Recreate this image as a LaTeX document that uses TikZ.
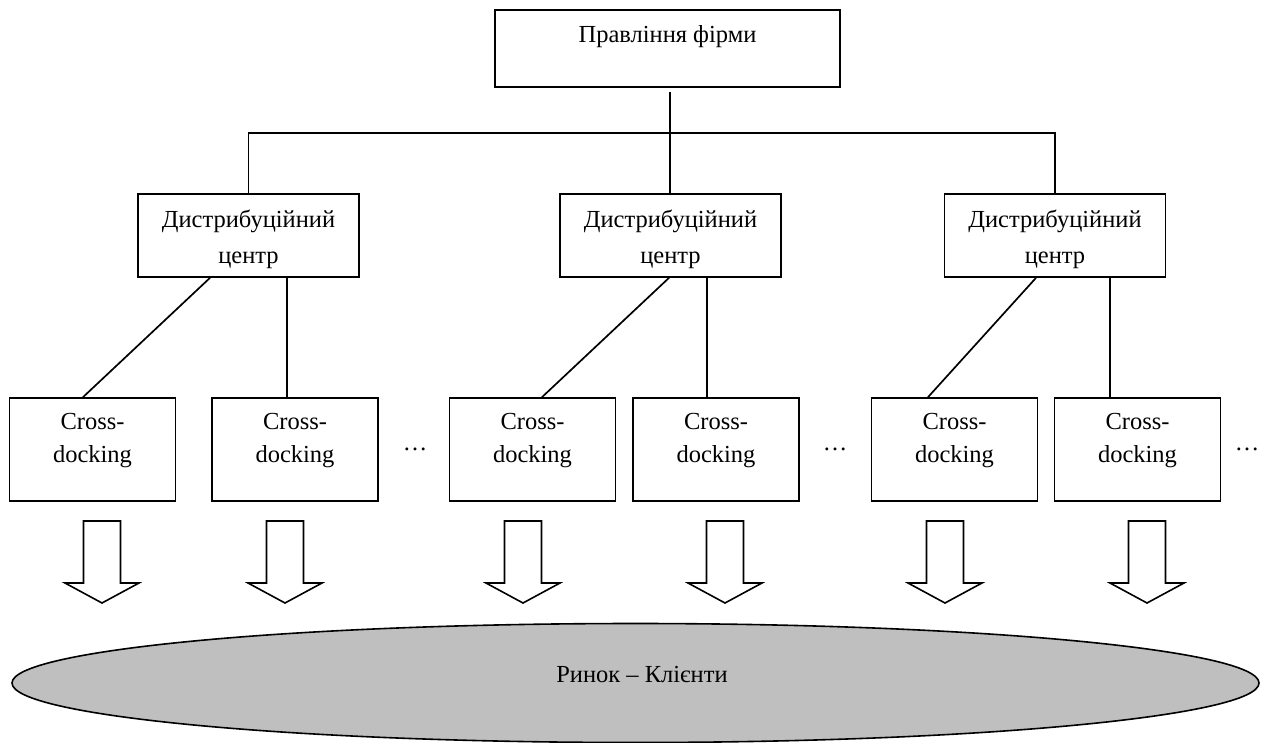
\documentclass[tikz,border=0pt]{standalone}
\usepackage{fontspec}
\setmainfont{Liberation Serif}
\usetikzlibrary{shapes.geometric,calc}
\tikzset{
  every node/.style={font=\fontsize{24.5}{36}\selectfont},
  boxnode/.style={draw, line width=1.7pt, inner sep=0pt},
  conn/.style={line width=1.7pt},
  txt/.style={inner sep=0pt, align=center, font=\fontsize{24.5}{33}\selectfont},
  downarrow/.pic={\draw[line width=1.6pt, line join=miter, fill=white]
     (-18.5,0) -- (18.5,0) -- (18.5,62) -- (37,62) -- (0,82) -- (-37,62) -- (-18.5,62) -- cycle;}
}
\begin{document}
\begin{tikzpicture}[x=1pt,y=-1pt]
\useasboundingbox (0,0) rectangle (1266,742);
% top
\node[boxnode, minimum width=345, minimum height=77] (top) at (667.5,48.5) {};
\node[inner sep=0pt, anchor=base] (toptxt) at (667.5,42) {Правління фірми};
% distribution centres
\foreach \n/\x in {dc1/248.5, dc2/670.5, dc3/1055}{
  \node[boxnode, minimum width=221, minimum height=83, align=center] (\n) at (\x,235.5) {\strut Дистрибуційний\\центр};
}
% cross-docking boxes
\foreach \n/\x in {cd1/92.5, cd2/295, cd3/532.5, cd4/716, cd5/954.5, cd6/1137.5}{
  \node[boxnode, minimum width=166, minimum height=103] (\n) at (\x,449.5) {};
  \node[txt] (\n t) at (\x,441) {Cross-\\docking};
}
% dots
\node[inner sep=0pt, anchor=base] (d1) at (415,450) {…};
\node[inner sep=0pt, anchor=base] (d2) at (835,450) {…};
\node[inner sep=0pt, anchor=base] (d3) at (1247,450) {…};
% bus
\coordinate (bus) at (670,133);
\draw[conn, shorten <=4pt] (top.south -| bus) -- (bus);
\draw[conn] (dc1.north) |- (bus) -| (dc3.north);
\draw[conn] (bus) -- (dc2.north -| bus);
% dc -> cd
\draw[conn] ($(dc1.south)+(-38.5,0)$) -- ($(cd1.north)+(-9.5,0)$);
\draw[conn] ($(dc1.south)+(38.5,0)$) -- ($(cd2.north)+(-8,0)$);
\draw[conn] ($(dc2.south)+(-1.5,0)$) -- ($(cd3.north)+(9.5,0)$);
\draw[conn] ($(dc2.south)+(36.5,0)$) -- ($(cd4.north)+(-9,0)$);
\draw[conn] ($(dc3.south)+(-19,0)$) -- ($(cd5.north)+(-26.5,0)$);
\draw[conn] ($(dc3.south)+(55,0)$) -- ($(cd6.north)+(-27.5,0)$);
% block arrows
\foreach \x in {102,285,523,725,945,1147}{
  \pic at (\x,521) {downarrow};
}
% market
\node[ellipse, draw, line width=1.6pt, fill=black!25, minimum width=1247, minimum height=119, inner sep=0pt] (market) at (635.5,683) {};
\node[inner sep=0pt, anchor=base] (markettxt) at (642,682) {Ринок – Клієнти};
\end{tikzpicture}
\end{document}
